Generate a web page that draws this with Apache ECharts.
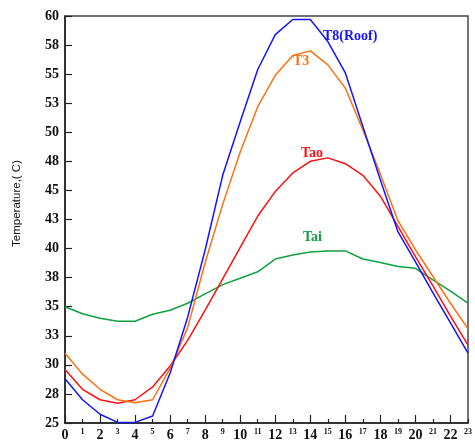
<!DOCTYPE html>
<html>
<head>
<meta charset="utf-8">
<script src="https://cdn.jsdelivr.net/npm/echarts@6/dist/echarts.min.js"></script>
<style>
html,body{margin:0;padding:0;background:#fff;}
#chart{width:475px;height:443px;}
</style>
</head>
<body>
<div id="chart"></div>
<script>
var hours = ['0','1','2','3','4','5','6','7','8','9','10','11','12','13','14','15','16','17','18','19','20','21','22','23'];
var t8Roof = [28.8,27.0,25.75,25.05,25.05,25.6,29.3,34.1,39.9,46.3,50.9,55.4,58.4,59.7,59.7,57.8,55.1,50.5,45.9,41.45,38.85,36.2,33.6,31.0];
var t3 = [31.0,29.2,27.9,27.0,26.75,27.0,29.7,33.2,38.8,43.8,48.3,52.2,54.9,56.6,57.0,55.8,53.8,50.2,46.4,42.4,39.9,37.6,35.3,33.1];
var tao = [29.6,27.9,27.0,26.7,27.0,28.1,29.9,32.1,34.7,37.4,40.1,42.8,44.9,46.5,47.5,47.8,47.3,46.3,44.5,41.9,39.3,36.8,34.2,31.7];
var tai = [35.0,34.4,34.0,33.75,33.75,34.35,34.7,35.3,36.1,36.9,37.45,38.0,39.1,39.45,39.7,39.8,39.8,39.1,38.8,38.45,38.3,37.3,36.35,35.3];
var seriesNames = ['T8(Roof)','T3','Tao','Tai'];
var yAxisTitle = 'Temperature,( C)';

var chart = echarts.init(document.getElementById('chart'), null, {renderer:'canvas'});
var serif = '"Liberation Serif","Times New Roman",serif';
var colors = ['#1414ff','#ff7010','#ff1010','#10a040'];
var datas = [t8Roof, t3, tao, tai];

var option = {
  animation: false,
  backgroundColor: '#fff',
  grid: {left: 65, right: 3, top: 16, bottom: 20, show: true, borderColor: '#444', borderWidth: 1.5, backgroundColor: 'transparent'},
  xAxis: [{
    type: 'category', data: hours, boundaryGap: false, position: 'bottom',
    axisLine: {show: true, lineStyle: {color: '#222', width: 1.5}},
    axisTick: {show: true, inside: true, length: 8, interval: function(i){return i % 2 === 0;}, lineStyle: {color: '#222', width: 1.2}},
    axisLabel: {interval: function(i){return i % 2 === 0;}, fontFamily: serif, fontWeight: 'bold', fontSize: 14, color: '#111', margin: 5},
    splitLine: {show: false}
  }, {
    type: 'category', data: hours, boundaryGap: false, position: 'bottom',
    axisLine: {show: false},
    axisTick: {show: true, inside: true, length: 4, interval: function(i){return i % 2 === 1;}, lineStyle: {color: '#222', width: 1.2}},
    axisLabel: {interval: function(i){return i % 2 === 1;}, fontFamily: serif, fontWeight: 'bold', fontSize: 8, color: '#111', margin: 5},
    splitLine: {show: false}
  }],
  yAxis: {
    type: 'value', min: 25, max: 60, interval: 2.5,
    axisLine: {show: true, lineStyle: {color: '#222', width: 1.5}},
    axisTick: {show: true, inside: true, length: 7, lineStyle: {color: '#222', width: 1.2}},
    axisLabel: {formatter: function(v){return String(Math.round(v));}, fontFamily: serif, fontWeight: 'bold', fontSize: 14, color: '#111', margin: 6},
    splitLine: {show: false}
  },
  series: datas.map(function(d, i){
    return {
      name: seriesNames[i], type: 'line', data: d, xAxisIndex: 0, symbol: 'none', smooth: false,
      lineStyle: {color: colors[i], width: 1.5}, z: 10 - i
    };
  }),
  graphic: [
    {type: 'text', left: 11, top: 160, rotation: Math.PI/2, style: {text: yAxisTitle, font: '11.5px "Liberation Sans", Arial, sans-serif', fill: '#111'}},
    {type: 'text', x: 323, y: 29, style: {text: seriesNames[0], font: 'bold 14px ' + serif, fill: colors[0]}, z: 20},
    {type: 'text', x: 293, y: 54, style: {text: seriesNames[1], font: 'bold 14px ' + serif, fill: colors[1]}, z: 20},
    {type: 'text', x: 301, y: 146, style: {text: seriesNames[2], font: 'bold 14px ' + serif, fill: colors[2]}, z: 20},
    {type: 'text', x: 303, y: 230, style: {text: seriesNames[3], font: 'bold 14px ' + serif, fill: colors[3]}, z: 20}
  ]
};
chart.setOption(option);
</script>
</body>
</html>
